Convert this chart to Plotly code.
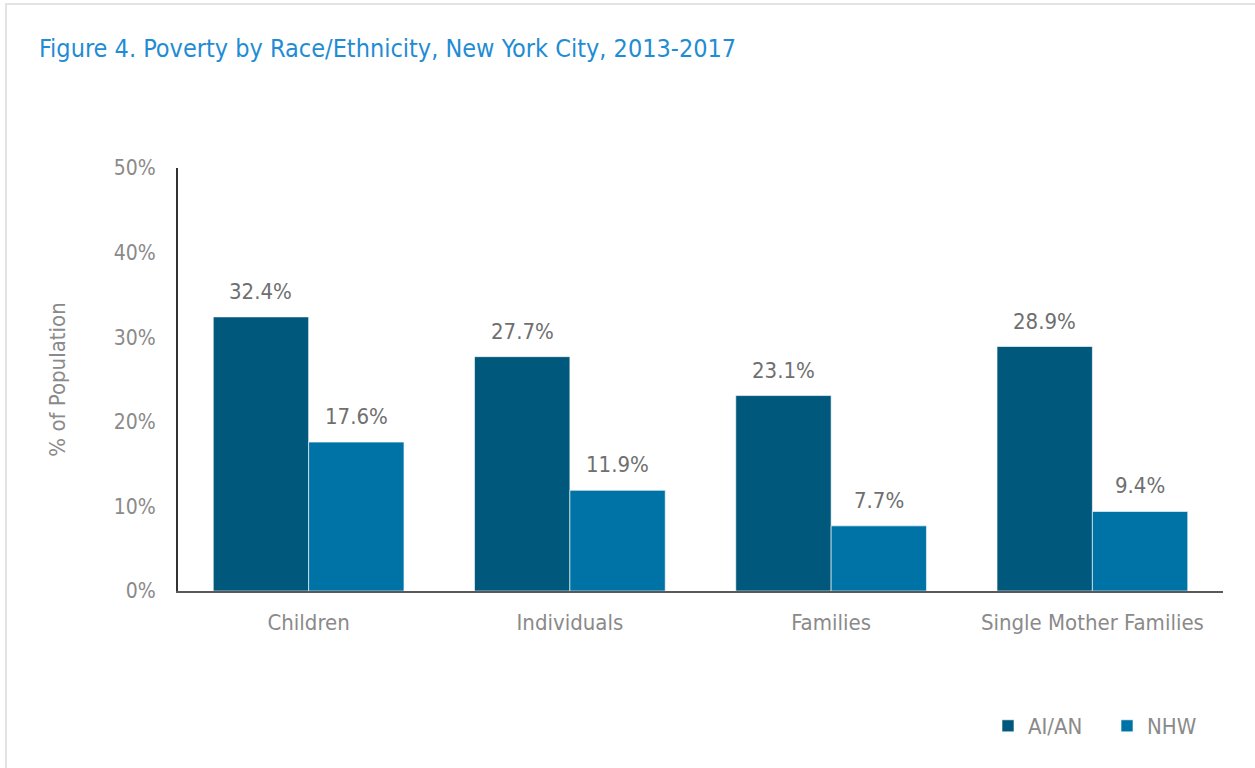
import plotly.graph_objects as go

# Poverty rates (% of population) by group, NYC 2013-2017
categories = ["Children", "Individuals", "Families", "Single Mother Families"]
aian_values = [32.4, 27.7, 23.1, 28.9]
nhw_values = [17.6, 11.9, 7.7, 9.4]
series_names = ["AI/AN", "NHW"]
y_ticks = [0, 10, 20, 30, 40, 50]
y_tick_labels = ["0%", "10%", "20%", "30%", "40%", "50%"]

FONT = "DejaVu Sans Condensed, Liberation Sans Narrow, Arial Narrow, sans-serif"
DARK = "#00587C"
LIGHT = "#0073A6"
GRAY = "#8A8A8A"
LABEL_GRAY = "#6F6F6F"

W, H = 1255, 768
L, R, T, B = 178, 32, 168, 177
plot_w = W - L - R
plot_h = H - T - B


def px_x(px):
    return (px - L) / plot_w


def px_y(px):
    return (H - B - px) / plot_h


fig = go.Figure()
fig.add_trace(go.Bar(
    x=categories, y=aian_values, name=series_names[0],
    marker=dict(color=DARK, line=dict(color="rgba(255,255,255,0.6)", width=1)),
    hoverinfo="skip",
))
fig.add_trace(go.Bar(
    x=categories, y=nhw_values, name=series_names[1],
    marker=dict(color=LIGHT, line=dict(color="rgba(255,255,255,0.6)", width=1)),
    hoverinfo="skip",
))

# value labels above each bar
bargap = 0.27
bar_px = plot_w / len(categories) * (1 - bargap) / 2
annotations = []
for vals, shift in ((aian_values, -bar_px / 2), (nhw_values, bar_px / 2)):
    for c, v in zip(categories, vals):
        annotations.append(dict(
            x=c, y=v, xref="x", yref="y", text=f"{v:.1f}%",
            showarrow=False, yanchor="bottom", xshift=shift, yshift=11,
            font=dict(family=FONT, size=22, color=LABEL_GRAY),
        ))

annotations.append(dict(
    x=px_x(37), y=px_y(48), xref="paper", yref="paper",
    text="Figure 4. Poverty by Race/Ethnicity, New York City, 2013-2017",
    showarrow=False, xanchor="left", yanchor="middle",
    font=dict(family=FONT, size=25, color="#1F8CD3"),
))

fig.update_layout(
    width=W, height=H,
    margin=dict(l=L, r=R, t=T, b=B, pad=0, autoexpand=False),
    paper_bgcolor="white", plot_bgcolor="white",
    barmode="group", bargap=bargap, bargroupgap=0,
    showlegend=True,
    legend=dict(
        orientation="h", x=px_x(988), y=px_y(726),
        xanchor="left", yanchor="middle",
        font=dict(family=FONT, size=22, color=GRAY),
        itemwidth=30, tracegroupgap=0, entrywidth=74, entrywidthmode="pixels",
        bgcolor="rgba(0,0,0,0)",
    ),
    annotations=annotations,
    xaxis=dict(
        showline=True, linecolor="#595959", linewidth=2,
        ticks="", showgrid=False, zeroline=False,
        tickfont=dict(family=FONT, size=22, color=GRAY),
        ticklabelstandoff=11,
    ),
    yaxis=dict(
        range=[0, 50], tickvals=y_ticks, ticktext=y_tick_labels,
        showline=True, linecolor="#333333", linewidth=2,
        ticks="", showgrid=False, zeroline=False,
        tickfont=dict(family=FONT, size=21, color=GRAY),
        ticklabelstandoff=16,
        title=dict(text="% of Population", standoff=42,
                   font=dict(family=FONT, size=22, color=GRAY)),
    ),
    shapes=[dict(
        type="rect", xref="paper", yref="paper",
        x0=px_x(6), x1=px_x(W + 10),
        y0=px_y(H + 10), y1=px_y(4),
        line=dict(color="#E3E3E3", width=2), layer="below",
    )],
)

fig.write_html("out.html")
